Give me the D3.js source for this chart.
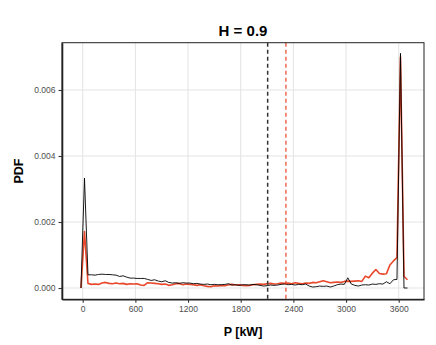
<!DOCTYPE html>
<meta charset="utf-8">
<style>
body { margin: 0; background: #fff; }
text { font-family: "Liberation Sans", Arial, sans-serif; }
.grid line { stroke: #e3e3e3; stroke-width: 1; }
.axis text { fill: #4d4d4d; font-size: 8.5px; }
.axis .tick line { stroke: #333; stroke-width: 1.1; }
</style>
<svg width="436" height="345"></svg>
<script src="https://d3js.org/d3.v7.min.js"></script>
<script>

// power bins [kW]
var P = [-20, 20, 60, 100, 140, 180, 220, 260, 300, 340,
  380, 420, 460, 500, 540, 580, 620, 660, 700, 740,
  780, 820, 860, 900, 940, 980, 1020, 1060, 1100, 1140,
  1180, 1220, 1260, 1300, 1340, 1380, 1420, 1460, 1500, 1540,
  1580, 1620, 1660, 1700, 1740, 1780, 1820, 1860, 1900, 1940,
  1980, 2020, 2060, 2100, 2140, 2180, 2220, 2260, 2300, 2340,
  2380, 2420, 2460, 2500, 2540, 2580, 2620, 2660, 2700, 2740,
  2780, 2820, 2860, 2900, 2940, 2980, 3020, 3060, 3100, 3140,
  3180, 3220, 3260, 3300, 3340, 3380, 3420, 3460, 3500, 3540,
  3580, 3620, 3660, 3700];

var pdfBlack = [0, 0.00333, 0.00040, 0.00040, 0.00039, 0.00041, 0.00042, 0.00041, 0.00041, 0.00040,
  0.00039, 0.00035, 0.00037, 0.00033, 0.00030, 0.00030, 0.00029, 0.00029, 0.00029, 0.00026,
  0.00023, 0.00025, 0.00021, 0.00019, 0.00022, 0.00017, 0.00015, 0.00016, 0.00014, 0.00016,
  0.00015, 0.00015, 0.00013, 0.00014, 0.00012, 0.00011, 0.00012, 0.00010, 0.00011, 0.00010,
  0.00010, 0.00011, 0.00013, 0.00009, 0.00010, 0.00008, 0.00010, 0.00010, 0.00009, 0.00011,
  0.00010, 0.00008, 0.00006, 0.00007, 0.00009, 0.00008, 0.00009, 0.00011, 0.00012, 0.00010,
  0.00011, 0.00009, 0.00011, 0.00010, 0.00012, 0.00006, 0.00003, 0.00004, 0.00006, 0.00005,
  0.00006, 0.00003, 0.00006, 0.00010, 0.00012, 0.00011, 0.00031, 0.00012, 0.00008, 0.00006,
  0.00009, 0.00010, 0.00009, 0.00012, 0.00011, 0.00013, 0.00012, 0.00019, 0.00013, 0.00025,
  0.00026, 0.00711, 0, 0];

var pdfRed = [0, 0.00171, 0.00014, 0.00011, 0.00012, 0.00011, 0.00015, 0.00017, 0.00014, 0.00013,
  0.00015, 0.00013, 0.00014, 0.00011, 0.00013, 0.00012, 0.00013, 0.00009, 0.00008, 0.00016,
  0.00015, 0.00014, 0.00013, 0.00011, 0.00012, 0.00008, 0.00010, 0.00013, 0.00014, 0.00010,
  0.00012, 0.00011, 0.00010, 0.00008, 0.00010, 0.00007, 0.00005, 0.00004, 0.00007, 0.00006,
  0.00008, 0.00007, 0.00010, 0.00011, 0.00009, 0.00010, 0.00008, 0.00007, 0.00008, 0.00010,
  0.00011, 0.00012, 0.00011, 0.00013, 0.00014, 0.00012, 0.00013, 0.00015, 0.00014, 0.00015,
  0.00013, 0.00016, 0.00014, 0.00013, 0.00015, 0.00014, 0.00017, 0.00016, 0.00019, 0.00022,
  0.00019, 0.00016, 0.00017, 0.00018, 0.00017, 0.00020, 0.00021, 0.00020, 0.00021, 0.00022,
  0.00020, 0.00036, 0.00031, 0.00045, 0.00056, 0.00044, 0.00042, 0.00043, 0.00070, 0.00082,
  0.00092, 0.00700, 0.00035, 0.00025];

// mean power of each series
var meanBlack = 2107;
var meanRed = 2315;

var xTicks = [0, 600, 1200, 1800, 2400, 3000, 3600];
var yTicks = [0, 0.002, 0.004, 0.006];

var red = "#e8472a";

var svg = d3.select("svg"),
    margin = {top: 42.7, left: 62, right: 12, bottom: 45.7},
    width = +svg.attr("width") - margin.left - margin.right,
    height = +svg.attr("height") - margin.top - margin.bottom;

var x = d3.scaleLinear().domain([-236, 3888]).range([0, width]);
var y = d3.scaleLinear().domain([-0.000342, 0.007433]).range([height, 0]);

var g = svg.append("g")
    .attr("transform", "translate(" + margin.left + "," + margin.top + ")");

// grid
var grid = g.append("g").attr("class", "grid");
grid.selectAll(".gx").data(xTicks).enter().append("line")
    .attr("x1", function(d) { return x(d); })
    .attr("x2", function(d) { return x(d); })
    .attr("y1", 0).attr("y2", height);
grid.selectAll(".gy").data(yTicks).enter().append("line")
    .attr("x1", 0).attr("x2", width)
    .attr("y1", function(d) { return y(d); })
    .attr("y2", function(d) { return y(d); });

var line = d3.line()
    .x(function(d) { return x(d[0]); })
    .y(function(d) { return y(d[1]); });

g.append("path")
    .datum(P.map(function(p, i) { return [p, pdfRed[i]]; }))
    .attr("fill", "none")
    .attr("stroke", red)
    .attr("stroke-width", 1.6)
    .attr("stroke-linejoin", "round")
    .attr("d", line);

g.append("path")
    .datum(P.map(function(p, i) { return [p, pdfBlack[i]]; }))
    .attr("fill", "none")
    .attr("stroke", "#000")
    .attr("stroke-width", 0.9)
    .attr("stroke-linejoin", "round")
    .attr("d", line);

// mean lines
g.append("line")
    .attr("x1", x(meanBlack)).attr("x2", x(meanBlack))
    .attr("y1", 0).attr("y2", height)
    .attr("stroke", "#333").attr("stroke-width", 1.5)
    .attr("stroke-dasharray", "4,3");
g.append("line")
    .attr("x1", x(meanRed)).attr("x2", x(meanRed))
    .attr("y1", 0).attr("y2", height)
    .attr("stroke", red).attr("stroke-width", 1.2)
    .attr("stroke-dasharray", "4,3");

// panel border
g.append("rect")
    .attr("width", width).attr("height", height)
    .attr("fill", "none").attr("stroke", "#222").attr("stroke-width", 1);

var xAxis = g.append("g")
    .attr("class", "axis")
    .attr("transform", "translate(0," + height + ")")
    .call(d3.axisBottom(x).tickValues(xTicks).tickSizeInner(3.5).tickSizeOuter(0)
      .tickPadding(3).tickFormat(d3.format("d")));
xAxis.select(".domain").attr("stroke", "#222").attr("stroke-width", 1.6);

var yAxis = g.append("g")
    .attr("class", "axis")
    .call(d3.axisLeft(y).tickValues(yTicks).tickSizeInner(3.5).tickSizeOuter(0)
      .tickPadding(3).tickFormat(d3.format(".3f")));
yAxis.select(".domain").attr("stroke", "#222").attr("stroke-width", 1.6);

// titles
svg.append("text")
    .attr("x", margin.left + width / 2).attr("y", 36)
    .attr("text-anchor", "middle")
    .attr("font-size", 15).attr("font-weight", "bold")
    .text("H = 0.9");

svg.append("text")
    .attr("x", margin.left + width / 2).attr("y", 336)
    .attr("text-anchor", "middle")
    .attr("font-size", 12.5).attr("font-weight", "bold")
    .text("P [kW]");

svg.append("text")
    .attr("transform", "translate(22.5," + (margin.top + height / 2) + ") rotate(-90)")
    .attr("text-anchor", "middle")
    .attr("font-size", 12.5).attr("font-weight", "bold")
    .text("PDF");

</script>
